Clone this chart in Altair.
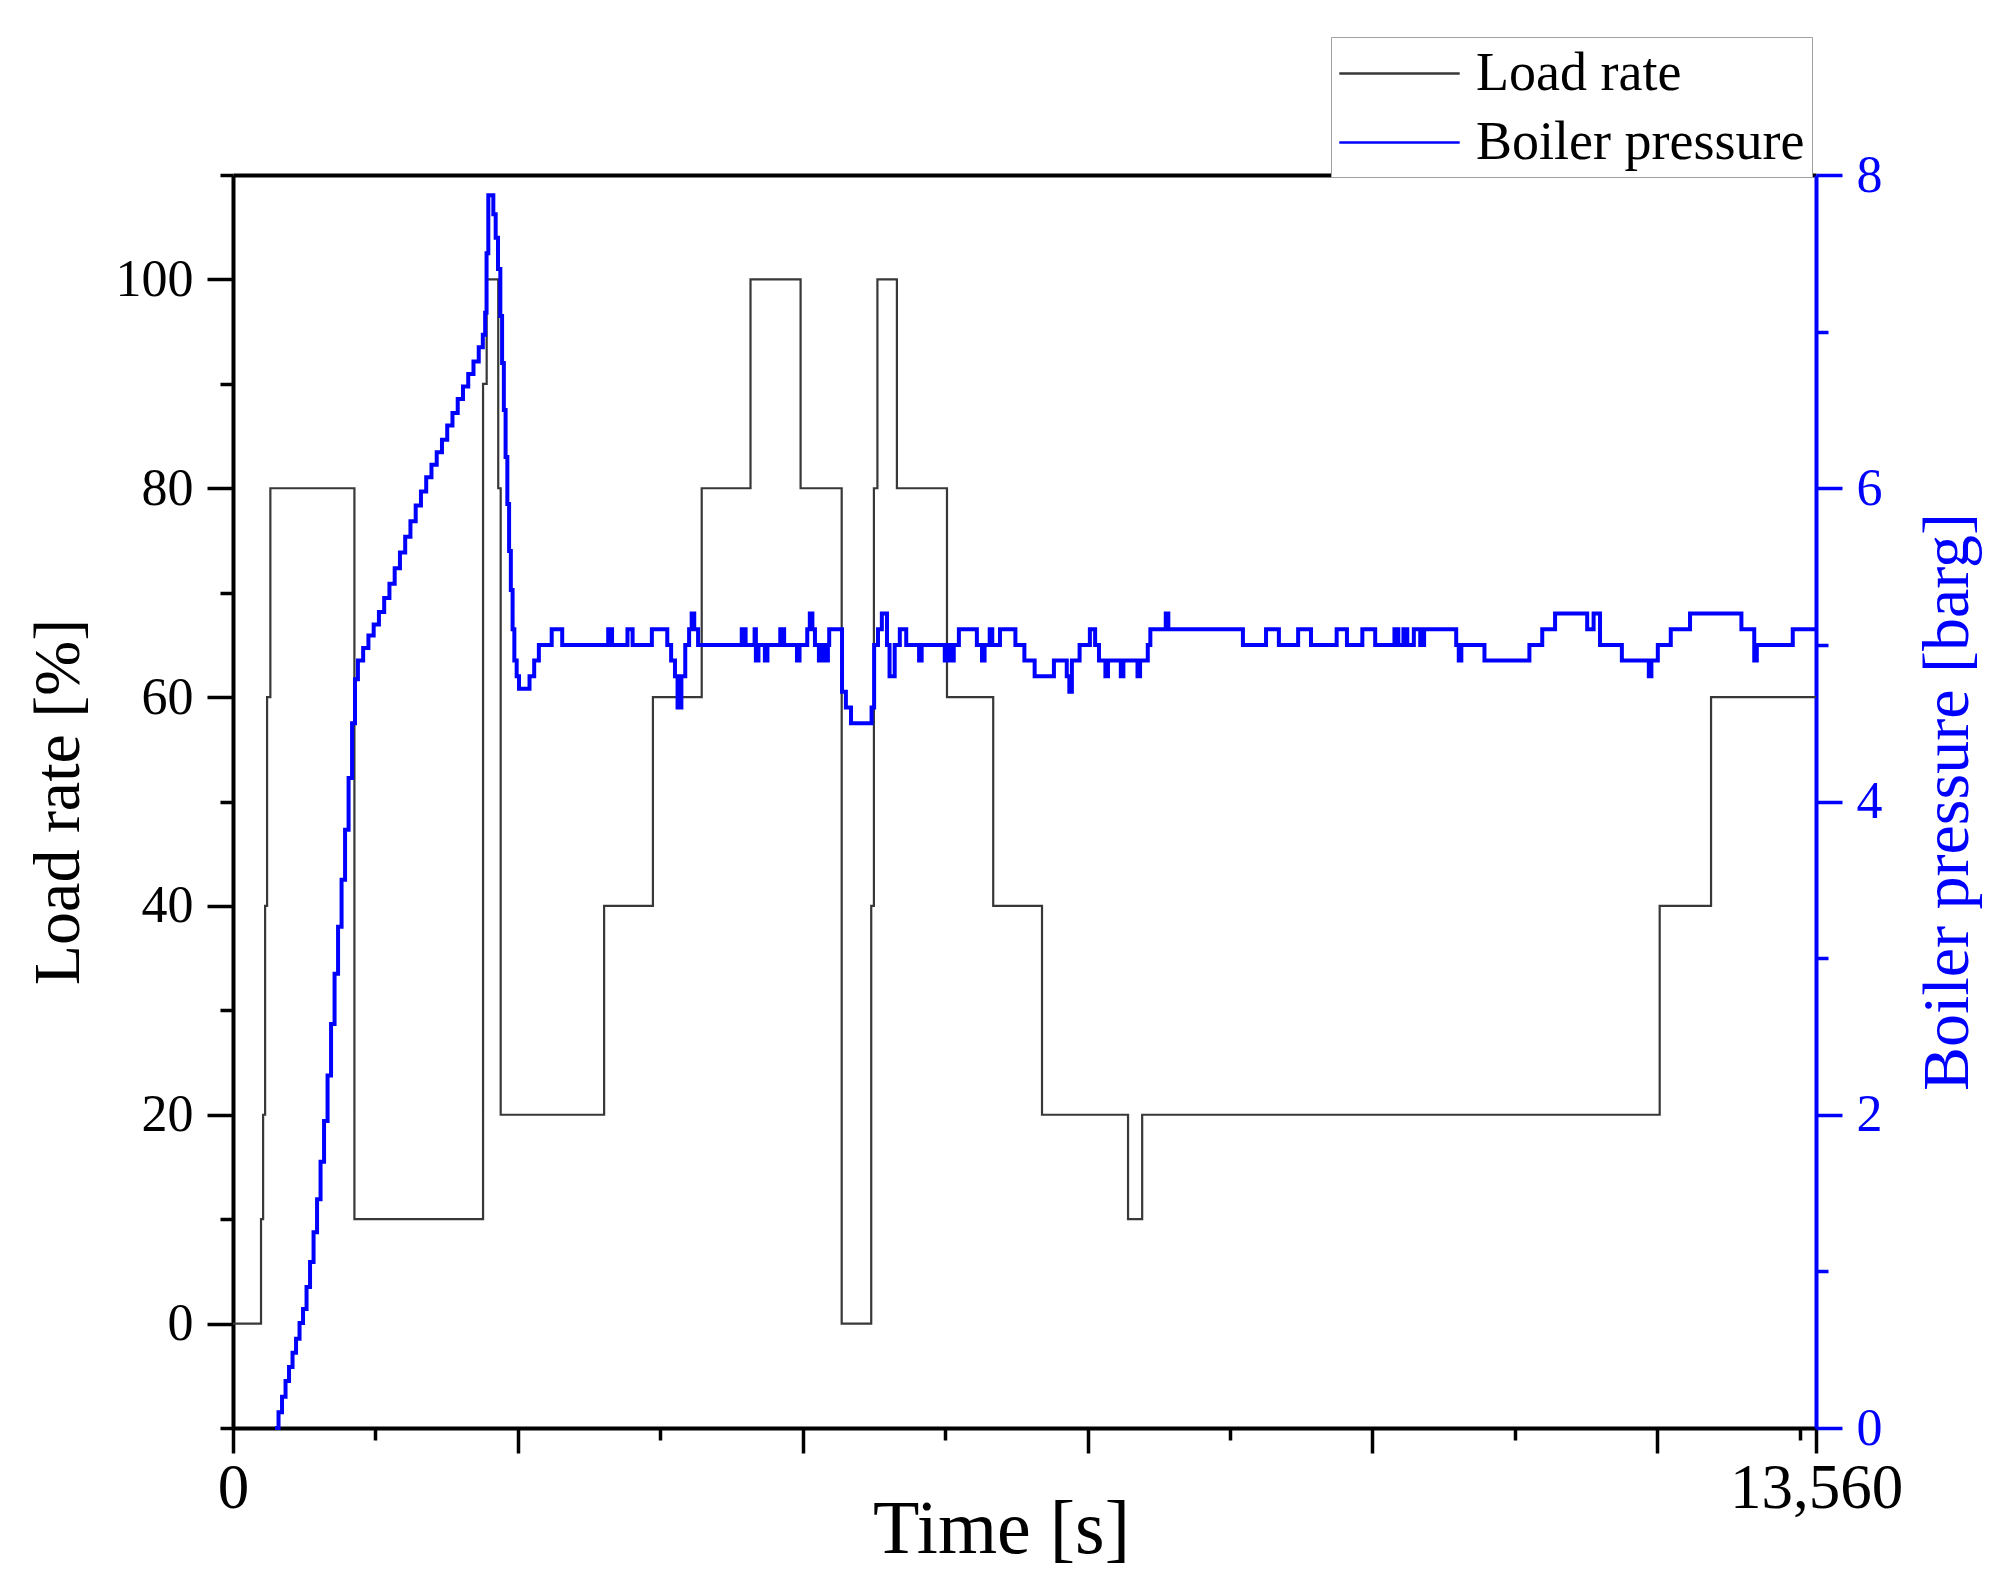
import altair as alt
import pandas as pd

FONT = "Liberation Serif"

# ---- Load rate [%] (step function) ----
load_time = [0, 240, 258, 275, 292, 320, 1040, 2142, 2173, 2272, 2293, 3179, 3597, 4015,
             4433, 4862, 5214, 5467, 5490, 5520, 5687, 6116, 6512, 6930, 7667, 7788,
             12221, 12661, 13560]
load_rate = [0, 10, 20, 40, 60, 80, 10, 90, 100, 80, 20, 40, 60, 80,
             100, 80, 0, 40, 80, 100, 80, 60, 40, 20, 10, 20,
             40, 60, 60]

# ---- Boiler pressure [barg]: start-up ramp and overshoot ----
ramp_time = [360, 390, 420, 450, 480, 510, 540, 570, 600, 630,
             660, 690, 720, 750, 780, 810, 840, 870, 900, 930,
             960, 990, 1020, 1045, 1070, 1115, 1160, 1205, 1250, 1295,
             1340, 1385, 1430, 1475, 1520, 1565, 1610, 1655, 1700, 1745,
             1790, 1835, 1880, 1925, 1970, 2015, 2060, 2105, 2140, 2160,
             2172, 2187, 2230, 2250, 2270, 2290, 2305, 2320, 2335, 2350,
             2365, 2380, 2395, 2410, 2430, 2450, 2540, 2580, 2620, 2730,
             2820]
ramp_value = [0.0, 0.1, 0.2, 0.3, 0.39, 0.48, 0.57, 0.67, 0.76, 0.9,
              1.06, 1.25, 1.46, 1.7, 1.96, 2.25, 2.58, 2.9, 3.2, 3.5,
              3.82, 4.15, 4.5, 4.78, 4.9, 4.98, 5.06, 5.13, 5.21, 5.3,
              5.39, 5.49, 5.59, 5.69, 5.79, 5.89, 5.98, 6.07, 6.15, 6.23,
              6.31, 6.4, 6.48, 6.57, 6.65, 6.73, 6.81, 6.9, 6.98, 7.12,
              7.5, 7.87, 7.75, 7.6, 7.4, 7.1, 6.8, 6.5, 6.2, 5.9,
              5.6, 5.35, 5.1, 4.9, 4.8, 4.72, 4.8, 4.9, 5.0, 5.1,
              5.0]

# ---- Boiler pressure [barg]: regulated fluctuations ----
fluct_time = [3214, 3247, 3379, 3423, 3588, 3720, 3753, 3786, 3808, 3841, 3874, 3907, 3929, 3951, 3984,
              4358, 4391, 4468, 4479, 4501, 4556, 4578, 4688, 4721, 4831, 4853, 4919, 4941, 4963, 4985,
              5019, 5041, 5063, 5096, 5107,
              5217, 5250, 5294, 5470, 5492, 5525, 5558, 5602, 5624, 5668, 5712, 5767, 5877, 5899, 6097,
              6119, 6152, 6174, 6218, 6372,
              6416, 6438, 6482, 6504, 6570, 6702, 6779, 6867, 7032, 7142, 7164, 7186, 7252, 7340, 7385,
              7418, 7473, 7495, 7605, 7627,
              7748, 7770, 7836, 7858, 7990, 8012, 8651, 8849, 8959, 9124, 9234, 9454, 9542, 9674, 9784,
              9949, 9982, 10026, 10059, 10115,
              10170, 10203, 10478, 10500, 10522, 10720, 11105, 11215, 11325, 11600, 11655, 11710, 11897,
              12128, 12150, 12205, 12316, 12481, 12921, 13031,
              13053, 13361, 13560]
fluct_value = [5.1, 5.0, 5.1, 5.0, 5.1, 5.0, 4.9, 4.8, 4.6, 4.8, 5.0, 5.1, 5.2, 5.1, 5.0,
               5.1, 5.0, 5.1, 4.9, 5.0, 4.9, 5.0, 5.1, 5.0, 4.9, 5.0, 5.1, 5.2, 5.1, 5.0,
               4.9, 5.0, 4.9, 5.0, 5.1,
               4.7, 4.6, 4.5, 4.6, 5.0, 5.1, 5.2, 5.0, 4.8, 5.0, 5.1, 5.0, 4.9, 5.0, 4.9,
               5.0, 4.9, 5.0, 5.1, 5.0,
               4.9, 5.0, 5.1, 5.0, 5.1, 5.0, 4.9, 4.8, 4.9, 4.8, 4.7, 4.9, 5.0, 5.1, 5.0,
               4.9, 4.8, 4.9, 4.8, 4.9,
               4.8, 4.9, 5.0, 5.1, 5.2, 5.1, 5.0, 5.1, 5.0, 5.1, 5.0, 5.1, 5.0, 5.1, 5.0,
               5.1, 5.0, 5.1, 5.0, 5.1,
               5.0, 5.1, 5.0, 4.9, 5.0, 4.9, 5.0, 5.1, 5.2, 5.1, 5.2, 5.0, 4.9,
               4.8, 4.9, 5.0, 5.1, 5.2, 5.1, 4.9,
               5.0, 5.1, 5.1]

# ---- axis ticks ----
x_ticks = [0, 1220, 2440, 3660, 4880, 6100, 7320, 8540, 9760, 10980, 12200, 13420, 13560]
y_left_ticks = [-10, 0, 10, 20, 30, 40, 50, 60, 70, 80, 90, 100, 110]
y_right_ticks = [0, 1, 2, 3, 4, 5, 6, 7, 8]

series_names = ["Load rate", "Boiler pressure"]
series_colors = ["#383838", "#0000ff"]

load_df = pd.DataFrame({"t": load_time, "v": load_rate, "s": series_names[0]})
press_df = pd.DataFrame({"t": ramp_time + fluct_time, "p": ramp_value + fluct_value,
                         "s": series_names[1]})

x_scale = alt.Scale(domain=[0, 13560], nice=False, zero=False)
BLUE = "#0000ff"

x_axis = alt.Axis(
    values=x_ticks, format=",d",
    labelExpr="(datum.value === 0 || datum.value === 13560) ? datum.label : ''",
    tickSize={"condition": {"test": "datum.value % 2440 !== 0 && datum.value !== 13560", "value": 12}, "value": 25},
    tickWidth=3.5, tickColor="black", domainWidth=4, domainColor="black",
    labelFont=FONT, labelFontSize=63, labelColor="black", labelPadding=4,
    labelFlush=False, labelOverlap=False, grid=False,
    titleFont=FONT, titleFontSize=76, titleFontWeight="normal", titleColor="black",
    titleY=124, titleX=768, titleBaseline="alphabetic",
)

y_left_axis = alt.Axis(
    values=y_left_ticks,
    labelExpr="datum.value % 20 === 0 ? datum.label : ''",
    tickSize={"condition": {"test": "datum.value % 20 !== 0", "value": 13}, "value": 26},
    tickWidth=3.5, tickColor="black", domainWidth=4, domainColor="black",
    labelFont=FONT, labelFontSize=52, labelColor="black", labelPadding=14,
    labelFlush=False, labelOverlap=False, grid=False,
    titleFont=FONT, titleFontSize=66, titleFontWeight="normal", titleColor="black",
    titleX=-155, titleAngle=270, titleBaseline="alphabetic", titleAlign="center",
)

y_right_axis = alt.Axis(
    orient="right", values=y_right_ticks,
    labelExpr="datum.value % 2 === 0 ? datum.label : ''",
    tickSize={"condition": {"test": "datum.value % 2 !== 0", "value": 12}, "value": 26},
    tickWidth=3.5, tickColor=BLUE, domainWidth=4, domainColor=BLUE,
    labelFont=FONT, labelFontSize=52, labelColor=BLUE, labelPadding=14,
    labelFlush=False, labelOverlap=False, grid=False,
    titleFont=FONT, titleFontSize=66, titleFontWeight="normal", titleColor=BLUE,
    titleX=151, titleAngle=270, titleBaseline="alphabetic", titleAlign="center",
)

top_axis = alt.Axis(orient="top", ticks=False, labels=False, domainWidth=4,
                    domainColor="black", grid=False, title=None)

legend = alt.Legend(
    orient="none", legendX=1098, legendY=-138, direction="vertical", title=None,
    fillColor="white", strokeColor="#a0a0a0", padding=7, cornerRadius=0,
    symbolType="M-2.15,0H2.15", symbolSize=3136, symbolStrokeWidth=2.5,
    symbolOffset=32, labelOffset=47,
    labelFont=FONT, labelFontSize=54, labelColor="black", labelLimit=700,
    rowPadding=12,
)

color_scale = alt.Scale(domain=series_names, range=series_colors)

load = alt.Chart(load_df).mark_line(interpolate="step-after", strokeWidth=2.2).encode(
    x=alt.X("t:Q", scale=x_scale, axis=x_axis, title="Time [s]"),
    y=alt.Y("v:Q", scale=alt.Scale(domain=[-10, 110], nice=False, zero=False),
            axis=y_left_axis, title="Load rate [%]"),
    color=alt.Color("s:N", scale=color_scale, legend=legend),
)

press = alt.Chart(press_df).mark_line(interpolate="step-after", strokeWidth=4).encode(
    x=alt.X("t:Q", scale=x_scale, axis=top_axis),
    y=alt.Y("p:Q", scale=alt.Scale(domain=[0, 8], nice=False, zero=False),
            axis=y_right_axis, title="Boiler pressure [barg]"),
    color=alt.Color("s:N", scale=color_scale, legend=legend),
)

chart = (
    alt.layer(load, press)
    .resolve_scale(y="independent")
    .resolve_axis(x="independent")
    .properties(
        width=1583, height=1253,
        autosize=alt.AutoSizeParams(type="none"),
        padding={"left": 225, "top": 167, "right": 185, "bottom": 160},
        background="white",
    )
    .configure(font=FONT)
    .configure_view(strokeWidth=0)
)

chart.save("out.html", embed_options={"renderer": "svg", "actions": False})
